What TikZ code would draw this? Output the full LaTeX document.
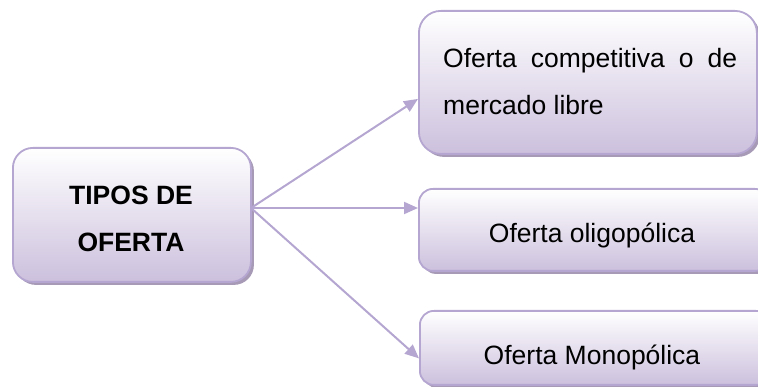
\documentclass[tikz,border=0pt]{standalone}
\usepackage{fontspec}
\setmainfont{Liberation Sans}
\usetikzlibrary{arrows.meta,shadows}
\definecolor{boxline}{RGB}{180,166,208}
\definecolor{boxbot}{RGB}{204,192,221}
\definecolor{boxshadow}{RGB}{166,154,182}
\definecolor{arrowc}{RGB}{180,166,208}
\tikzset{
  box/.style={draw=boxline, line width=1.8pt, top color=white, bottom color=boxbot,
    inner sep=0pt, anchor=north west,
    drop shadow={shadow xshift=3pt, shadow yshift=-3pt, fill=boxshadow, opacity=1}},
  lbl/.style={inner sep=0pt, font=\fontsize{26.5}{47}\selectfont},
  arr/.style={draw=arrowc, line width=2pt, -{Triangle[length=14pt,width=12pt]}},
}
\begin{document}
\begin{tikzpicture}[x=1pt,y=-1pt]
  \useasboundingbox (0,0) rectangle (758,387);

  % boxes
  \node[box, rounded corners=20pt, minimum width=238pt, minimum height=134pt] (src) at (12,147) {};
  \node[box, rounded corners=22pt, minimum width=338pt, minimum height=143pt] (b1) at (418,10) {};
  \node[box, rounded corners=14pt, minimum width=350pt, minimum height=82pt] (b2) at (418,188) {};
  \node[box, rounded corners=14pt, minimum width=350pt, minimum height=74pt] (b3) at (419,310) {};

  % texts (base anchor of a multi-line node sits on its last line)
  \node[lbl, font=\fontsize{26.5}{47}\selectfont\bfseries, align=center, anchor=base] (tsrc) at (131,252) {TIPOS DE\\OFERTA};
  \node[lbl, text width=294pt, align=justify, anchor=base west] (t1) at (443,68)
    {\hyphenpenalty=10000 Oferta competitiva o de mercado libre};
  \node[lbl, anchor=base] (t2) at (592,243) {Oferta oligopólica};
  \node[lbl, anchor=base] (t3) at (592,365) {Oferta Monopólica};

  % connectors
  \coordinate (hub) at (251,208);
  \draw[arr] (hub) -- ([yshift=-16.5pt]b1.west);
  \draw[arr] (hub) -- (b2.west |- hub);
  \draw[arr] (hub) -- ([yshift=-10.5pt]b3.west);
\end{tikzpicture}
\end{document}
